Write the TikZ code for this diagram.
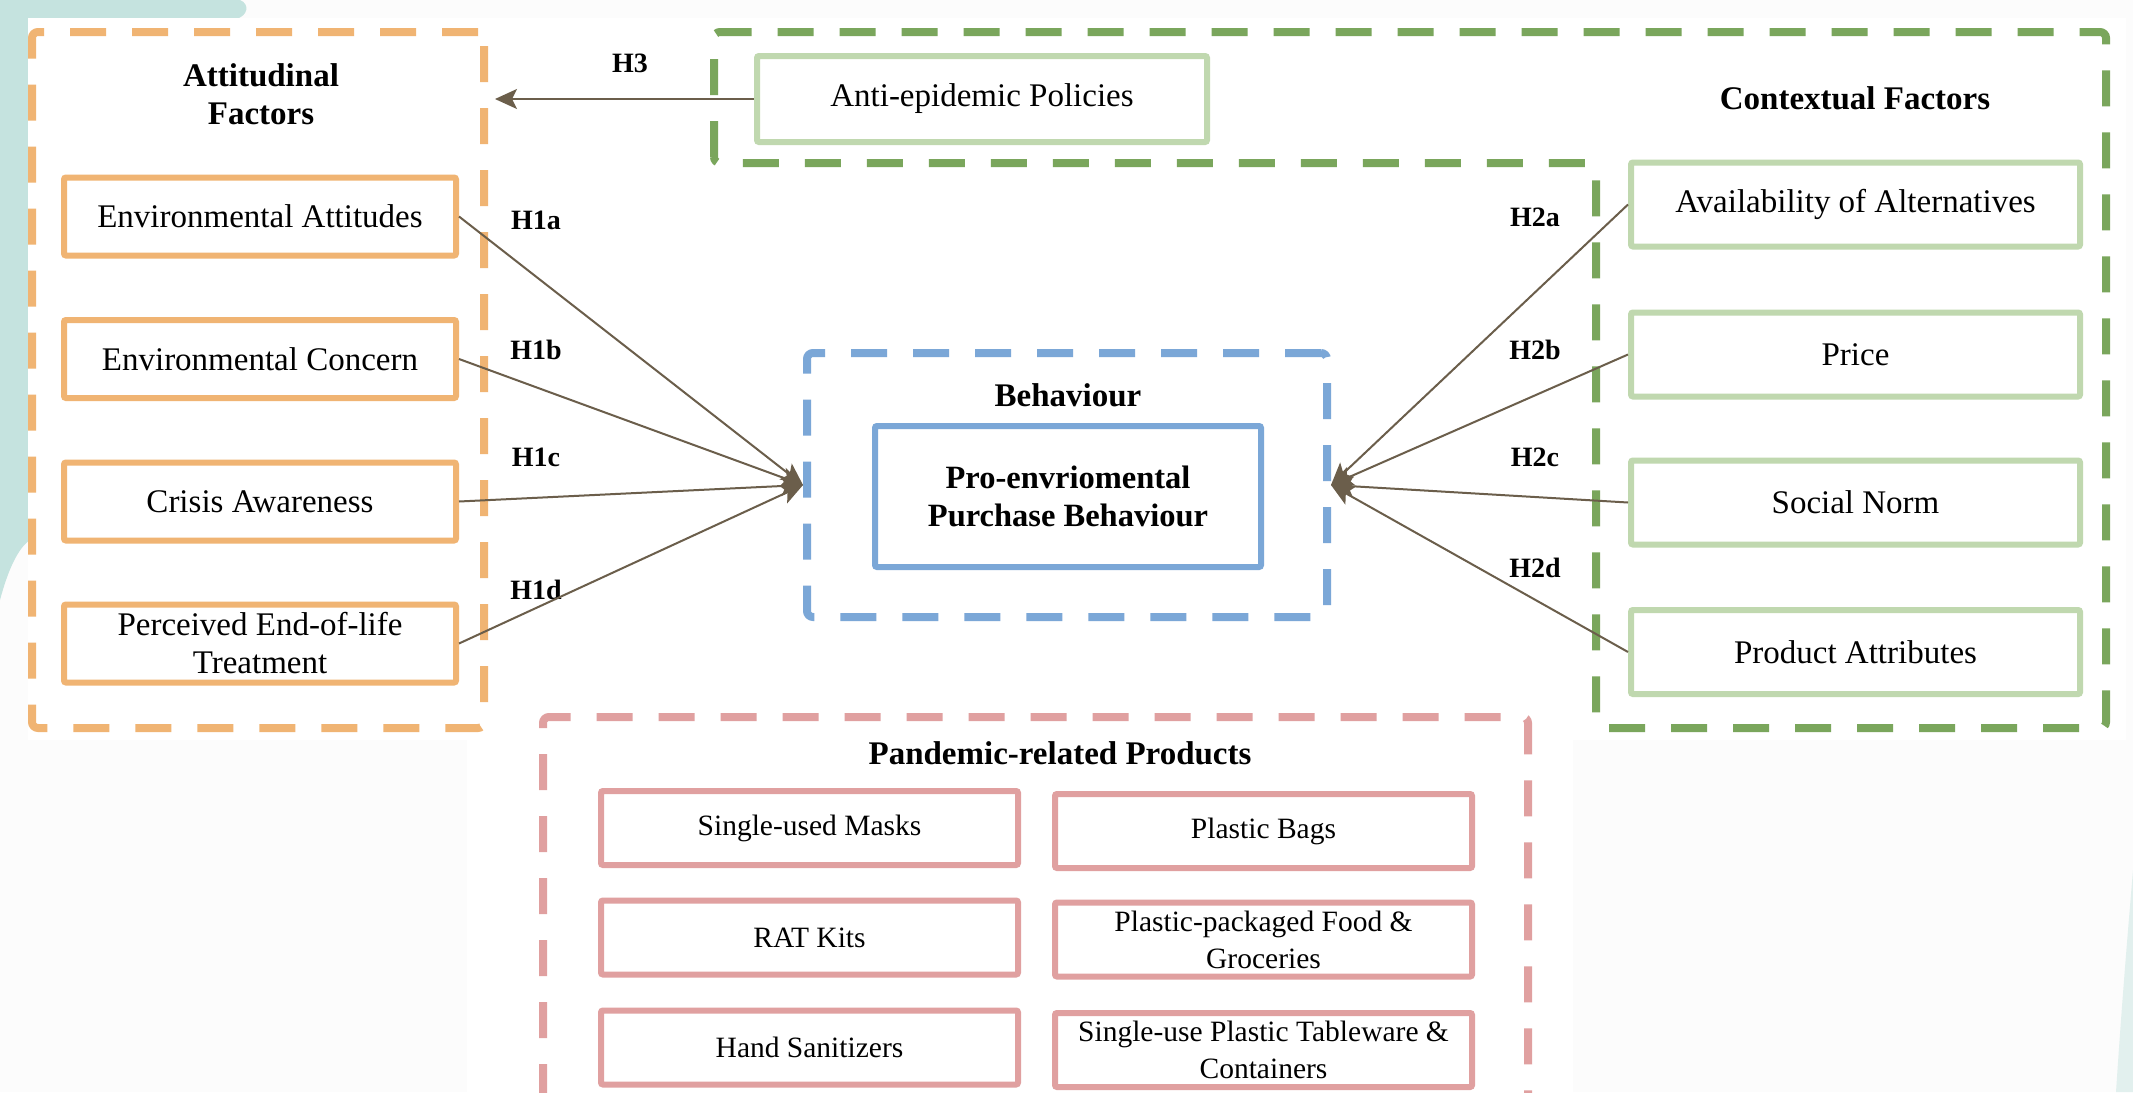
\documentclass[tikz,border=0pt]{standalone}
\usepackage{fontspec}
\setmainfont{Liberation Serif}
\usetikzlibrary{arrows.meta}
\definecolor{orangeC}{RGB}{240,180,115}
\definecolor{greenD}{RGB}{122,166,92}
\definecolor{greenL}{RGB}{192,216,175}
\definecolor{blueC}{RGB}{123,167,215}
\definecolor{pinkC}{RGB}{224,160,160}
\definecolor{arrowC}{RGB}{107,94,75}
\definecolor{tealC}{RGB}{197,227,223}
\definecolor{tealL}{RGB}{226,240,238}
\definecolor{bgC}{RGB}{252,252,252}
\tikzset{
 dbox/.style={line width=8pt, dash pattern=on 36pt off 26pt, rounded corners=6pt},
 ibox/.style={draw, line width=6pt, rounded corners=2pt, align=center, inner sep=0pt, font=\fontsize{33}{38}\selectfont},
 obox/.style={ibox, draw=orangeC, minimum width=392pt, minimum height=78pt},
 gbox/.style={ibox, draw=greenL, minimum width=449pt, minimum height=84pt},
 pbox/.style={ibox, draw=pinkC, minimum width=417pt, minimum height=74pt, font=\fontsize{29.5}{37}\selectfont},
 title/.style={font=\fontsize{33}{38}\selectfont\bfseries, align=center, inner sep=0pt},
 hlab/.style={font=\fontsize{28}{32}\selectfont\bfseries, inner sep=0pt},
 conn/.style={draw=arrowC, line width=2pt, -{Stealth[length=22pt,width=20pt,inset=5pt]}},
}
\begin{document}
\begin{tikzpicture}[x=1pt,y=-1pt]
\useasboundingbox (0,0) rectangle (2133,1092);
% background
\fill[bgC] (0,0) rectangle (2133,1092);
\fill[tealC] (0,0) -- (240,0) .. controls (250,4) and (248,16) .. (236,19) -- (30,19) -- (30,540) .. controls (18,548) and (8,570) .. (0,600) -- cycle;
\fill[tealL] (2133,870) -- (2133,1092) -- (2116,1092) .. controls (2122,1000) and (2128,930) .. (2133,870) -- cycle;
\fill[white] (28,18) rectangle (2126,740);
\fill[white] (467,740) rectangle (1573,1092);

% group frames
\node[draw=orangeC, dbox, minimum width=452pt, minimum height=696pt] (att) at (258,380) {};
\draw[greenD, dbox] (714,163) -- (714,32) -- (2106,32) -- (2106,728) -- (1596,728) -- (1596,163) -- cycle;
\node[draw=blueC, dbox, minimum width=520pt, minimum height=264pt] (beh) at (1067,485) {};
\draw[pinkC, dbox] (543,1100) -- (543,717) -- (1528,717) -- (1528,1100);

% titles
\node[title] (tatt) at (261,94) {Attitudinal\\Factors};
\node[title] (tctx) at (1855,98) {Contextual Factors};
\node[title] (tbeh) at (1068,395) {Behaviour};
\node[title] (tpan) at (1060,753) {Pandemic-related Products};

% attitudinal factors
\node[obox] (e1) at (260,216.5) {Environmental Attitudes};
\node[obox] (e2) at (260,359) {Environmental Concern};
\node[obox] (e3) at (260,501.5) {Crisis Awareness};
\node[obox] (e4) at (260,643.5) {Perceived End-of-life\\Treatment};

% contextual factors
\node[gbox, minimum width=450pt, minimum height=86pt] (anti) at (982,99) {Anti-epidemic Policies};
\node[gbox] (c1) at (1855.5,204.5) {Availability of Alternatives};
\node[gbox] (c2) at (1855.5,354.5) {Price};
\node[gbox] (c3) at (1855.5,502.5) {Social Norm};
\node[gbox] (c4) at (1855.5,652) {Product Attributes};

% behaviour
\node[ibox, draw=blueC, minimum width=386pt, minimum height=141pt, font=\fontsize{32.5}{38}\selectfont\bfseries] (pepb) at (1068,496.5) {Pro-envriomental\\Purchase Behaviour};

% products
\node[pbox] (p1) at (809.5,828) {Single-used Masks};
\node[pbox] (p2) at (1263.5,831) {Plastic Bags};
\node[pbox] (p3) at (809.5,937.5) {RAT Kits};
\node[pbox] (p4) at (1263.5,939.5) {Plastic-packaged Food \&\\Groceries};
\node[pbox] (p5) at (809.5,1047.5) {Hand Sanitizers};
\node[pbox] (p6) at (1263.5,1050) {Single-use Plastic Tableware \&\\Containers};

% hypothesis labels
\node[hlab] (h3) at (630,63) {H3};
\node[hlab] (h1a) at (536,220) {H1a};
\node[hlab] (h1b) at (536,350) {H1b};
\node[hlab] (h1c) at (536,457) {H1c};
\node[hlab] (h1d) at (536,590) {H1d};
\node[hlab] (h2a) at (1535,217) {H2a};
\node[hlab] (h2b) at (1535,350) {H2b};
\node[hlab] (h2c) at (1535,457) {H2c};
\node[hlab] (h2d) at (1535,568) {H2d};

% connectors
\draw[conn] (e1.east) -- (beh.west);
\draw[conn] (e2.east) -- (beh.west);
\draw[conn] (e3.east) -- (beh.west);
\draw[conn] (e4.east) -- (beh.west);
\draw[conn] (c1.west) -- (beh.east);
\draw[conn] (c2.west) -- (beh.east);
\draw[conn] (c3.west) -- (beh.east);
\draw[conn] (c4.west) -- (beh.east);
\draw[conn, shorten >=7pt] (anti.west) -- (anti.west -| att.east);
\end{tikzpicture}
\end{document}
